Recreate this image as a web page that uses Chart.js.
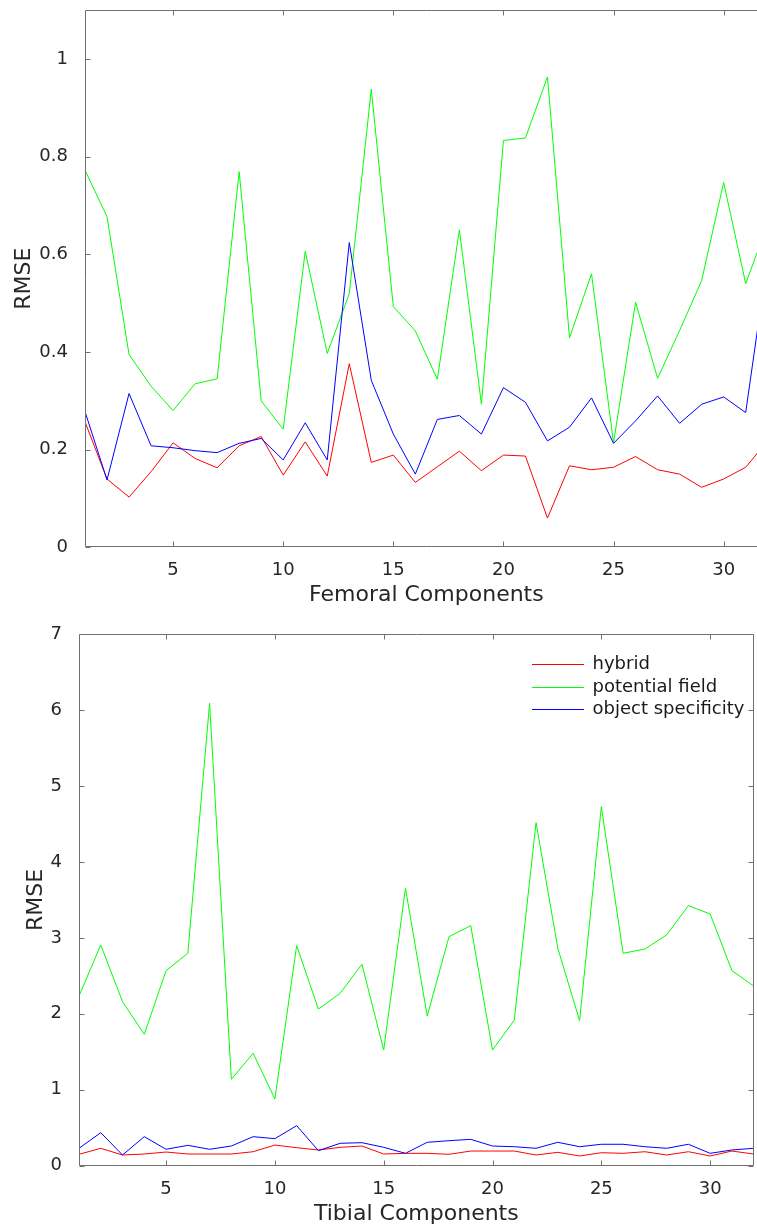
<!DOCTYPE html>
<html>
<head>
<meta charset="utf-8">
<script src="https://cdn.jsdelivr.net/npm/chart.js@4.4.0/dist/chart.umd.min.js"></script>
<style>
  html, body { margin: 0; padding: 0; background: #fff; overflow: hidden; width: 757px; height: 1228px; }
  #femBox { position: absolute; left: 0; top: 0; width: 770px; height: 615px; }
  #tibBox { position: absolute; left: 0; top: 615px; width: 757px; height: 613px; }
</style>
</head>
<body>
<div id="femBox"><canvas id="femChart"></canvas></div>
<div id="tibBox"><canvas id="tibChart"></canvas></div>
<script>
const components = [1, 2, 3, 4, 5, 6, 7, 8, 9, 10, 11, 12, 13, 14, 15, 16,
  17, 18, 19, 20, 21, 22, 23, 24, 25, 26, 27, 28, 29, 30, 31, 32];

// femoral RMSE
const femHybrid = [0.257, 0.140, 0.103, 0.155, 0.214, 0.182, 0.163, 0.208, 0.227, 0.148, 0.216, 0.146, 0.376, 0.174, 0.189, 0.133,
  0.165, 0.197, 0.157, 0.189, 0.187, 0.060, 0.167, 0.159, 0.164, 0.186, 0.159, 0.150, 0.123, 0.140, 0.164, 0.218];
const femPotential = [0.772, 0.677, 0.395, 0.330, 0.280, 0.335, 0.345, 0.769, 0.300, 0.242, 0.606, 0.397, 0.519, 0.938, 0.493, 0.443,
  0.344, 0.650, 0.293, 0.833, 0.838, 0.963, 0.429, 0.560, 0.214, 0.502, 0.346, 0.444, 0.546, 0.747, 0.540, 0.662];
const femObject = [0.278, 0.138, 0.315, 0.208, 0.204, 0.198, 0.194, 0.213, 0.223, 0.179, 0.255, 0.179, 0.624, 0.342, 0.232, 0.150,
  0.262, 0.270, 0.232, 0.327, 0.297, 0.218, 0.246, 0.306, 0.213, 0.259, 0.310, 0.254, 0.293, 0.308, 0.276, 0.592];

// tibial RMSE
const tibHybrid = [0.150, 0.229, 0.141, 0.154, 0.180, 0.154, 0.154, 0.154, 0.184, 0.272, 0.237, 0.207, 0.242, 0.259, 0.154, 0.163,
  0.163, 0.150, 0.193, 0.193, 0.193, 0.141, 0.176, 0.128, 0.171, 0.163, 0.184, 0.141, 0.184, 0.128, 0.193, 0.154];
const tibPotential = [2.234, 2.906, 2.160, 1.730, 2.568, 2.797, 6.088, 1.137, 1.480, 0.878, 2.897, 2.063, 2.270, 2.652, 1.523, 3.652,
  1.971, 3.015, 3.160, 1.523, 1.918, 4.516, 2.862, 1.909, 4.727, 2.797, 2.853, 3.038, 3.424, 3.314, 2.568, 2.366];
const tibObject = [0.229, 0.435, 0.141, 0.382, 0.216, 0.268, 0.216, 0.259, 0.382, 0.356, 0.527, 0.198, 0.295, 0.303, 0.242, 0.163,
  0.308, 0.329, 0.347, 0.259, 0.250, 0.229, 0.308, 0.250, 0.282, 0.282, 0.250, 0.229, 0.282, 0.163, 0.207, 0.229];

const xTicks = [5, 10, 15, 20, 25, 30];
const femYTicks = [0, 0.2, 0.4, 0.6, 0.8, 1];
const tibYTicks = [0, 1, 2, 3, 4, 5, 6, 7];

const seriesNames = ["hybrid", "potential field", "object specificity"];
const seriesColors = ["#ff0000", "#00ff00", "#0000ff"];

const FONT = '"DejaVu Sans", "Liberation Sans", sans-serif';
const TEXT = "#262626";
const AXIS = "#707070";

// box + inward tick marks, like the octave plot
const framePlugin = {
  id: "frame",
  afterDraw(chart, args, opts) {
    const { ctx, chartArea: a, scales } = chart;
    const L = Math.round(a.left) + 0.5;
    const R = Math.round(a.right) - 0.5;
    const T = Math.round(a.top) + 0.5;
    const B = Math.round(a.bottom) - 0.5;
    ctx.save();
    ctx.strokeStyle = AXIS;
    ctx.lineWidth = 1;
    ctx.beginPath();
    ctx.moveTo(L, T); ctx.lineTo(L, B); ctx.lineTo(R, B);
    ctx.moveTo(L, T); ctx.lineTo(R, T);
    if (opts.right) { ctx.moveTo(R, T); ctx.lineTo(R, B); }
    scales.x.ticks.forEach((t) => {
      const px = Math.round(scales.x.getPixelForValue(t.value)) + 0.5;
      ctx.moveTo(px, B); ctx.lineTo(px, B - 5);
      ctx.moveTo(px, T); ctx.lineTo(px, T + 5);
    });
    scales.y.ticks.forEach((t) => {
      const py = Math.round(scales.y.getPixelForValue(t.value)) + 0.5;
      ctx.moveTo(L, py); ctx.lineTo(L + 5, py);
      if (opts.right) { ctx.moveTo(R, py); ctx.lineTo(R - 5, py); }
    });
    ctx.stroke();
    ctx.restore();
  },
};

// legend without box in the top right corner
const cornerLegend = {
  id: "cornerLegend",
  afterDraw(chart, args, opts) {
    if (!opts.show) return;
    const { ctx, chartArea: a } = chart;
    seriesNames.forEach((name, i) => {
      const y = Math.round(a.top + 30 + i * 22.5) + 0.5;
      const x0 = Math.round(a.right - 222);
      ctx.save();
      ctx.lineWidth = 1;
      ctx.strokeStyle = seriesColors[i];
      ctx.beginPath();
      ctx.moveTo(x0, y);
      ctx.lineTo(x0 + 52, y);
      ctx.stroke();
      ctx.font = "18px " + FONT;
      ctx.textBaseline = "middle";
      ctx.fillStyle = "#1a1a1a";
      ctx.fillText(name, x0 + 60.5, y);
      ctx.restore();
    });
  },
};

function series(i, values) {
  return {
    label: seriesNames[i],
    data: values.map((v, k) => ({ x: components[k], y: v })),
    borderColor: seriesColors[i],
    backgroundColor: seriesColors[i],
    borderWidth: 1,
    pointRadius: 0,
    tension: 0,
    order: 2 - i,
  };
}

function makeChart(id, cfg) {
  return new Chart(document.getElementById(id), {
    type: "line",
    data: {
      datasets: [series(0, cfg.hybrid), series(1, cfg.potential), series(2, cfg.object)],
    },
    options: {
      responsive: true,
      maintainAspectRatio: false,
      animation: false,
      events: [],
      layout: { padding: cfg.padding },
      plugins: {
        legend: { display: false },
        tooltip: { enabled: false },
        frame: { right: cfg.right },
        cornerLegend: { show: cfg.legend },
      },
      scales: {
        x: {
          type: "linear",
          min: 1,
          max: 32,
          grid: { display: false },
          border: { display: false },
          afterBuildTicks: (s) => { s.ticks = xTicks.map((v) => ({ value: v })); },
          afterFit: (s) => {
            s.height = cfg.xHeight;
            s.paddingLeft = 0;
            s.paddingRight = 0;
          },
          ticks: {
            font: { family: FONT, size: 18 },
            color: TEXT,
            padding: 4.5,
            maxRotation: 0,
            autoSkip: false,
            callback: (v) => String(v),
          },
          title: {
            display: true,
            text: cfg.xTitle,
            font: { family: FONT, size: 22 },
            color: TEXT,
            padding: 0,
          },
        },
        y: {
          min: 0,
          max: cfg.yMax,
          grid: { display: false },
          border: { display: false },
          afterBuildTicks: (s) => { s.ticks = cfg.yTicks.map((v) => ({ value: v })); },
          afterFit: (s) => {
            s.width = cfg.yWidth;
            s.paddingTop = 0;
            s.paddingBottom = 0;
          },
          ticks: {
            font: { family: FONT, size: 18 },
            color: TEXT,
            padding: 9,
            callback: (v) => String(v),
          },
          title: {
            display: true,
            text: "RMSE",
            font: { family: FONT, size: 22 },
            color: TEXT,
            padding: { top: cfg.yTitlePad, bottom: 0 },
          },
        },
      },
    },
    plugins: [framePlugin, cornerLegend],
  });
}

makeChart("femChart", {
  hybrid: femHybrid,
  potential: femPotential,
  object: femObject,
  yMax: 1.1,
  yTicks: femYTicks,
  xTitle: "Femoral Components",
  padding: { top: 10, right: 2.3, bottom: 6.3, left: 0 },
  xHeight: 61.3,
  yWidth: 85,
  yTitlePad: 11,
  right: true,
  legend: false,
});

makeChart("tibChart", {
  hybrid: tibHybrid,
  potential: tibPotential,
  object: tibObject,
  yMax: 7,
  yTicks: tibYTicks,
  xTitle: "Tibial Components",
  padding: { top: 19, right: 3.3, bottom: 0.8, left: 0 },
  xHeight: 61.5,
  yWidth: 79,
  yTitlePad: 23.5,
  right: true,
  legend: true,
});
</script>
</body>
</html>
